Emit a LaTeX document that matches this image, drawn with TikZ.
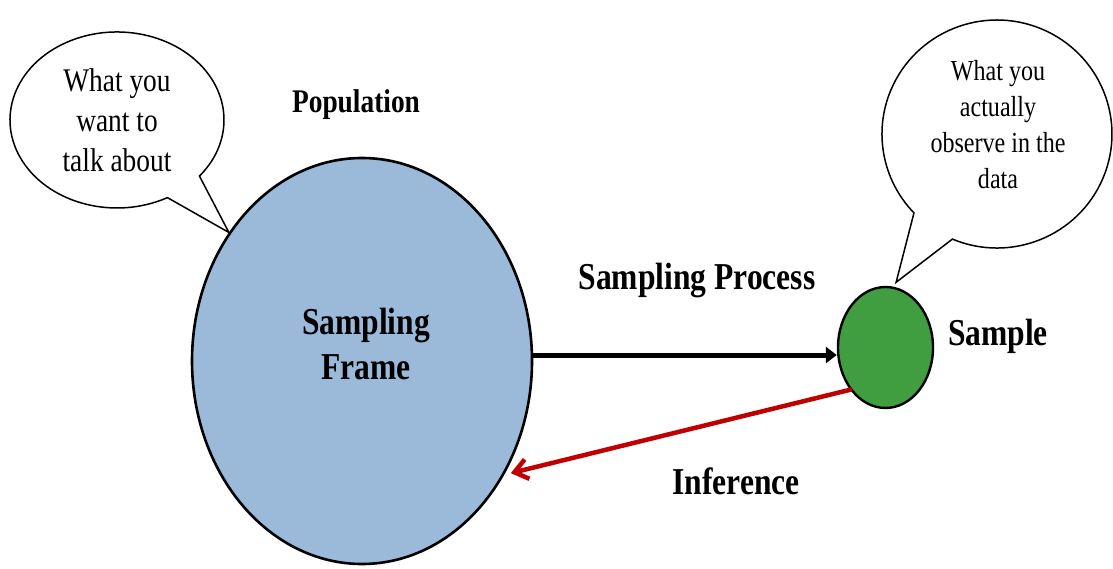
\documentclass[tikz,border=0pt]{standalone}
\usepackage{fontspec}
\setmainfont{Liberation Serif}[FakeStretch=0.83]
\usetikzlibrary{shapes.geometric,arrows.meta}

\definecolor{framefill}{RGB}{155,185,216}
\definecolor{samplefill}{RGB}{64,158,64}
\definecolor{inferred}{RGB}{192,0,0}

\begin{document}
\begin{tikzpicture}[x=1pt,y=-1pt,
  frame node/.style={ellipse,draw,fill=framefill,line width=2.6pt,inner sep=0pt,
    minimum width=340pt,minimum height=406pt},
  sample node/.style={ellipse,draw,fill=samplefill,line width=2.4pt,inner sep=0pt,
    minimum width=95pt,minimum height=121pt},
  big label/.style={font=\bfseries\fontsize{38}{45}\selectfont,align=center,inner sep=0pt},
  bubble/.style={draw,fill=white,line width=1.5pt,line join=miter},
  bubble text/.style={align=center,inner sep=0pt}]

  \useasboundingbox (0,0) rectangle (1113,569);

  \node[frame node] (frame) at (362,361) {};
  \node[sample node] (sample) at (885.5,347.5) {};

  \node[big label] (frametext) at (366,344) {Sampling\\Frame};
  \node[big label,font=\bfseries\fontsize{33}{40}\selectfont] (population) at (356,105) {Population};
  \node[big label] (process) at (697,281) {Sampling Process};
  \node[big label] (sampletext) at (998,336) {Sample};
  \node[big label] (inference) at (736,481) {Inference};

  % speech bubbles
  \coordinate (tipL) at (frame.136);
  \draw[bubble] (tipL) -- (167.4,197.6)
    arc[start angle=61.9,end angle=399.6,x radius=107,y radius=88] -- cycle;
  \node[bubble text,font=\fontsize{33}{40}\selectfont] (wanttext) at (117,120)
    {What you\\want to\\talk about};

  \coordinate (tipR) at ([yshift=5pt]sample.80);
  \draw[bubble] (tipR) -- (952.4,239.1)
    arc[start angle=112.8,end angle=-223.8,x radius=115,y radius=114] -- cycle;
  \node[bubble text,font=\fontsize{29}{36}\selectfont] (observetext) at (998,125)
    {What you\\actually\\observe in the\\data};

  % arrows
  \draw[line width=5pt,-{Triangle[length=11pt,width=16pt]}] (frame.2) -- (sample.west |- frame.2);
  \draw[line width=4.5pt,inferred,-{Straight Barb[length=13pt,width=20pt]},shorten <=-2pt] (sample.230) -- ([shift={(4pt,-3pt)}]frame.323);

\end{tikzpicture}
\end{document}
